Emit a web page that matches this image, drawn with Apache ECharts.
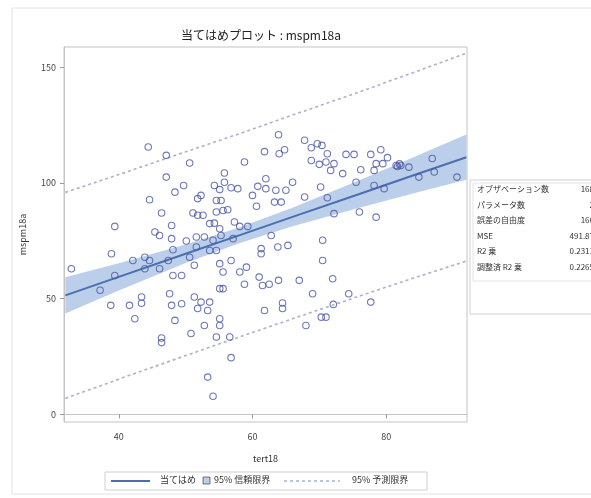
<!DOCTYPE html>
<html>
<head>
<meta charset="utf-8">
<script src="https://cdn.jsdelivr.net/npm/echarts@6/dist/echarts.min.js"></script>
<style>
  html, body { margin: 0; padding: 0; background: #fff; }
  #chart { width: 591px; height: 498px; }
</style>
</head>
<body>
<div id="chart"></div>
<script>
// Observations: tert18 (x) and mspm18a (y)
const tert18 = [
  44.4, 47.1, 50.6, 47.1, 48.4, 49.7, 44.6, 46.4, 51.1, 51.8,
  32.9, 39.4, 38.9, 37.2, 39.4, 38.8, 41.6, 42.4, 43.4, 43.4,
  42.1, 43.9, 44.6, 43.9, 46.1, 45.4, 46.1, 47.9, 47.9, 50.1,
  48.1, 47.4, 48.1, 49.4, 47.6, 47.9, 49.4, 48.4, 50.8, 46.4,
  46.4, 50.6, 51.3, 51.6, 51.3, 51.8,
  63.9, 61.8, 64.0, 64.8, 67.8, 68.8, 69.7, 68.8, 71.0, 58.8,
  55.8, 54.3, 55.8, 56.8, 57.8, 55.1, 60.0, 62.0, 60.8, 62.0,
  63.5, 65.0, 66.0, 63.3, 64.3, 67.8, 70.2, 60.6, 52.3, 54.6,
  55.3, 54.6, 55.6, 56.3, 51.8, 52.6, 53.6, 54.3, 55.1, 57.3,
  58.1, 59.3, 52.8, 54.1, 55.3, 51.6, 57.1, 53.6, 54.6, 55.1,
  55.6, 58.1, 56.8, 61.3, 61.3, 63.8, 65.3, 62.8, 70.5, 70.5,
  61.0, 59.1,
  61.5, 62.5, 58.8, 63.9, 67.0, 69.0, 64.5, 64.5, 61.8, 68.0,
  70.3, 71.0, 55.1, 55.6, 52.3, 53.6, 53.3, 52.8, 55.1, 55.1,
  54.6, 56.6, 56.8, 53.3, 54.1,
  79.2, 77.7, 74.0, 75.2, 71.2, 80.2, 79.5, 78.5, 78.2, 76.2,
  72.2, 71.7, 73.5, 70.0, 81.7, 82.2, 83.4, 81.5, 86.9, 87.2,
  84.9, 90.6, 78.2, 79.7, 75.5, 71.2, 72.2, 76.0, 78.5, 72.0,
  74.4, 72.1, 77.7, 70.4, 82.0
];
const mspm18a = [
  115.5, 111.9, 108.6, 102.5, 96.0, 98.9, 92.7, 87.0, 87.0, 93.2,
  62.9, 81.2, 69.4, 53.6, 60.0, 47.1, 47.1, 41.3, 50.7, 48.0,
  66.5, 67.9, 66.5, 62.9, 62.9, 78.8, 77.3, 81.6, 75.9, 74.9,
  71.1, 66.5, 60.0, 60.0, 52.1, 47.1, 47.8, 40.6, 34.9, 31.0,
  33.0, 67.9, 64.4, 76.6, 50.7, 45.7,
  120.8, 113.5, 112.6, 114.3, 118.4, 115.2, 116.9, 109.7, 109.0, 109.0,
  104.3, 98.9, 100.3, 97.9, 97.5, 97.1, 94.6, 101.8, 98.5, 97.5,
  96.8, 96.8, 100.3, 91.7, 91.7, 93.9, 98.2, 89.9, 94.6, 92.4,
  92.4, 87.4, 88.1, 88.4, 86.0, 86.0, 82.4, 82.6, 80.2, 83.1,
  81.2, 81.2, 76.6, 75.2, 77.3, 72.3, 75.9, 70.8, 70.8, 65.1,
  61.5, 61.5, 66.5, 71.6, 69.4, 72.3, 73.0, 77.3, 75.2, 66.5,
  59.3, 63.6,
  55.7, 56.2, 56.2, 57.9, 57.9, 52.1, 48.1, 45.7, 44.9, 38.4,
  42.0, 42.0, 54.3, 54.3, 48.5, 48.5, 44.9, 38.4, 41.3, 38.4,
  33.4, 33.4, 24.5, 16.1, 7.8,
  114.3, 112.3, 112.3, 112.3, 112.6, 110.9, 108.3, 108.3, 105.4, 105.7,
  108.3, 105.4, 104.0, 108.0, 107.1, 107.5, 106.8, 107.5, 110.5, 104.7,
  102.5, 102.5, 98.9, 97.5, 100.3, 93.6, 86.7, 87.4, 85.2, 58.6,
  52.1, 47.5, 48.5, 116.2, 108.2
];

// Fitted line with 95% confidence and prediction limits
const fitX     = [32,   40,   50,   58,   66,   76,    84,    92];
const fitY     = [51.4, 59.4, 69.4, 77.3, 85.3, 95.2,  103.2, 111.1];
const clLower  = [43.6, 53.5, 65.4, 73.9, 81.3, 89.3,  95.4,  101.3];
const clUpper  = [59.2, 65.3, 73.4, 80.7, 89.3, 101.1, 111.0, 120.9];
const plLower  = [6.9,  15.2, 25.4, 33.4, 41.3, 51.1,  58.8,  66.2];
const plUpper  = [95.9, 103.6, 113.4, 121.2, 129.3, 139.3, 147.6, 156.0];

const xTicks = [40, 60, 80];
const yTicks = [0, 50, 100, 150];

const statLabels = ['オブザベーション数', 'パラメータ数', '誤差の自由度', 'MSE', 'R2 乗', '調整済 R2 乗'];
const statValues = ['168', '2', '166', '491.87', '0.2311', '0.2265'];

const FONT = '"Noto Sans CJK JP", "Noto Sans", sans-serif';
const BAND = 'rgba(120,160,215,0.5)';
const pairs = (xs, ys) => xs.map((x, i) => [x, ys[i]]);

const chart = echarts.init(document.getElementById('chart'), null, { renderer: 'canvas' });

const statGraphics = [];
statLabels.forEach((t, i) => {
  statGraphics.push({
    type: 'text', left: 477, top: 185 + i * 15.6,
    style: { text: t, font: '8px ' + FONT, fill: '#333' }
  });
  statGraphics.push({
    type: 'text', x: 594, y: 185 + i * 15.6,
    style: { text: statValues[i], font: '8px ' + FONT, fill: '#333', align: 'right', verticalAlign: 'top' }
  });
});

chart.setOption({
  animation: false,
  backgroundColor: '#ffffff',
  title: {
    text: '当てはめプロット : mspm18a',
    left: 256, top: 24, textAlign: 'center',
    textStyle: { fontFamily: FONT, fontSize: 12, fontWeight: 'normal', color: '#222' }
  },
  grid: {
    left: 64, top: 47, right: 124, bottom: 76,
    show: true, borderColor: '#c4c4c4', borderWidth: 1
  },
  xAxis: {
    type: 'value', min: 31.8, max: 92.1,
    name: 'tert18', nameLocation: 'middle', nameGap: 32,
    nameTextStyle: { fontFamily: FONT, fontSize: 9, color: '#333' },
    axisLine: { show: true, lineStyle: { color: '#c4c4c4' } },
    axisTick: { show: true, customValues: xTicks, length: 4, lineStyle: { color: '#999' } },
    axisLabel: { customValues: xTicks, margin: 10, fontFamily: FONT, fontSize: 9, color: '#444' },
    splitLine: { show: false }
  },
  yAxis: {
    type: 'value', min: -3.3, max: 158.7,
    name: 'mspm18a', nameLocation: 'middle', nameGap: 37, nameRotate: 90,
    nameTextStyle: { fontFamily: FONT, fontSize: 9, color: '#333' },
    axisLine: { show: true, lineStyle: { color: '#c4c4c4' } },
    axisTick: { show: true, customValues: yTicks, length: 4, lineStyle: { color: '#999' } },
    axisLabel: { customValues: yTicks, margin: 8, fontFamily: FONT, fontSize: 9, color: '#444' },
    splitLine: { show: false }
  },
  series: [
    {
      // 95% confidence band
      type: 'custom',
      clip: true,
      silent: true,
      z: 1,
      data: fitX.map((x, i) => [x, clUpper[i], clLower[i]]),
      encode: { x: 0, y: [1, 2] },
      renderItem: function (params, api) {
        if (params.dataIndex !== 0) return null;
        const pts = [];
        for (let i = 0; i < fitX.length; i++) pts.push(api.coord([fitX[i], clUpper[i]]));
        for (let i = fitX.length - 1; i >= 0; i--) pts.push(api.coord([fitX[i], clLower[i]]));
        return { type: 'polygon', shape: { points: pts }, style: { fill: BAND } };
      }
    },
    {
      type: 'line', data: pairs(fitX, fitY), showSymbol: false, z: 3,
      lineStyle: { color: '#4a6fae', width: 2 }
    },
    {
      type: 'line', data: pairs(fitX, plUpper), showSymbol: false, z: 2,
      lineStyle: { color: '#aab2cc', width: 1.6, type: [3, 3] }
    },
    {
      type: 'line', data: pairs(fitX, plLower), showSymbol: false, z: 2,
      lineStyle: { color: '#aab2cc', width: 1.6, type: [3, 3] }
    },
    {
      type: 'scatter', z: 4,
      data: pairs(tert18, mspm18a),
      symbol: 'circle', symbolSize: 6.5,
      itemStyle: { color: 'rgba(0,0,0,0)', borderColor: '#4b57a0', borderWidth: 1.1 }
    }
  ],
  graphic: [
    // outer frame
    { type: 'rect', shape: { x: 12, y: 8, width: 600, height: 486 }, style: { fill: 'none', stroke: '#e2e2e2', lineWidth: 1 }, silent: true },
    // statistics panel
    { type: 'rect', shape: { x: 470, y: 180, width: 140, height: 134 }, style: { fill: '#fff', stroke: '#d0d0d0', lineWidth: 1 } },
    { type: 'rect', shape: { x: 473, y: 183, width: 140, height: 98 }, style: { fill: 'none', stroke: '#e4e4e4', lineWidth: 1 } },
    ...statGraphics,
    // legend
    { type: 'rect', shape: { x: 105, y: 472, width: 322, height: 18 }, style: { fill: '#fff', stroke: '#cfcfcf', lineWidth: 1 } },
    { type: 'line', shape: { x1: 111, y1: 481, x2: 150, y2: 481 }, style: { stroke: '#4a6fae', lineWidth: 2 } },
    { type: 'text', left: 160, top: 475, style: { text: '当てはめ', font: '9px ' + FONT, fill: '#333' } },
    { type: 'rect', shape: { x: 203, y: 477, width: 7, height: 7 }, style: { fill: BAND, stroke: '#555', lineWidth: 0.8 } },
    { type: 'text', left: 214, top: 475, style: { text: '95% 信頼限界', font: '9px ' + FONT, fill: '#333' } },
    { type: 'line', shape: { x1: 284, y1: 481, x2: 340, y2: 481 }, style: { stroke: '#aab2cc', lineWidth: 1.6, lineDash: [3, 3] } },
    { type: 'text', left: 352, top: 475, style: { text: '95% 予測限界', font: '9px ' + FONT, fill: '#333' } }
  ]
});
</script>
</body>
</html>
